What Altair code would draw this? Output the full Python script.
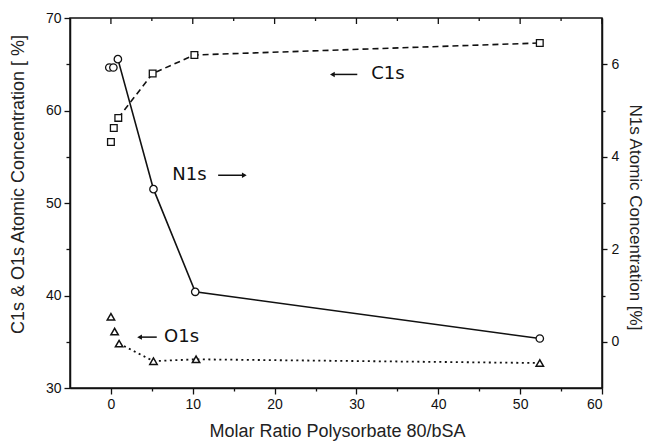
import altair as alt
import pandas as pd

# ---- data ----
c1s_x = [0.0, 0.35, 0.9, 5.1, 10.2, 52.4]
c1s_y = [56.6, 58.1, 59.2, 64.0, 66.0, 67.3]
o1s_x = [0.0, 0.45, 1.0, 5.2, 10.4, 52.4]
o1s_y = [37.7, 36.1, 34.8, 32.9, 33.1, 32.7]
n1s_x = [-0.2, 0.3, 0.85, 5.2, 10.3, 52.4]
n1s_y = [5.93, 5.93, 6.11, 3.30, 1.08, 0.07]
line_start = 2  # lines connect points from this index on

ann_labels = ["C1s", "N1s", "O1s"]
ann_text_x = [31.8, 7.5, 6.5]
ann_y = [63.9, 53.0, 35.5]
arrow_tail_x = [30.1, 13.1, 5.6]
arrow_head_x = [27.06, 16.3, 3.5]
arrow_shape = ["triangle-left", "triangle-right", "triangle-left"]

x_ticks = list(range(0, 61, 5))
left_ticks = list(range(30, 71, 5))
right_ticks = list(range(0, 7))

def frame(xs, ys):
    return pd.DataFrame({"x": xs, "y": ys, "i": list(range(len(xs)))})

df_c = frame(c1s_x, c1s_y)
df_o = frame(o1s_x, o1s_y)
df_n = frame(n1s_x, n1s_y)
df_ann = pd.DataFrame({"label": ann_labels, "x": ann_text_x, "y": ann_y,
                       "tail": arrow_tail_x, "head": arrow_head_x, "shape": arrow_shape})
df_top_major = pd.DataFrame({"x": [v for v in x_ticks if v % 10 == 0]})
df_top_minor = pd.DataFrame({"x": [v for v in x_ticks if v % 10 != 0]})

FONT = "Liberation Sans"

x_axis = alt.Axis(
    values=x_ticks, title="Molar Ratio Polysorbate 80/bSA",
    labelExpr="datum.value % 10 === 0 ? datum.label : ''",
    tickSize={"condition": {"test": "datum.value % 10 === 0", "value": 6}, "value": 3},
    grid=False, labelFontSize=14, labelPadding=3, titleFontSize=18,
    titleFontWeight="normal", titleX=267, titleY=43, titleBaseline="middle",
    titleAlign="center")

def xenc(field="x"):
    return alt.X(f"{field}:Q", scale=alt.Scale(domain=[-5, 60], nice=False, zero=False), axis=x_axis)

left_axis = alt.Axis(
    values=left_ticks, title="C1s & O1s Atomic Concentration [ %]",
    labelExpr="datum.value % 10 === 0 ? datum.label : ''",
    tickSize={"condition": {"test": "datum.value % 10 === 0", "value": 6}, "value": 4},
    grid=False, labelFontSize=14, labelPadding=3, titleFontSize=18,
    titleFontWeight="normal", titleX=-52, titleY=166, titleBaseline="middle",
    titleAlign="center", titleAngle=270)

def yleft():
    return alt.Y("y:Q", scale=alt.Scale(domain=[30, 70], nice=False, zero=False), axis=left_axis)

right_axis = alt.Axis(
    orient="right", values=right_ticks, title="N1s Atomic Concentration [%]",
    labelExpr="datum.value % 2 === 0 ? datum.label : ''",
    tickSize={"condition": {"test": "datum.value % 2 === 0", "value": 5}, "value": 3},
    grid=False, labelFontSize=14, labelPadding=4, titleFontSize=17,
    titleFontWeight="normal", titleX=32, titleY=199, titleBaseline="middle",
    titleAlign="center", titleAngle=90)

def yright():
    return alt.Y("y:Q", scale=alt.Scale(domain=[-1, 7], nice=False, zero=False), axis=right_axis)

BLACK = "#111111"

c_line = alt.Chart(df_c).transform_filter(f"datum.i >= {line_start}").mark_line(
    color=BLACK, strokeWidth=1.6, strokeDash=[6, 4]).encode(x=xenc(), y=yleft())
c_pts = alt.Chart(df_c).mark_point(shape="square", size=45, filled=True, fill="white",
    stroke=BLACK, strokeWidth=1.3, opacity=1).encode(x=xenc(), y=yleft())
o_line = alt.Chart(df_o).transform_filter(f"datum.i >= {line_start}").mark_line(
    color=BLACK, strokeWidth=1.8, strokeDash=[2, 3.5]).encode(x=xenc(), y=yleft())
o_pts = alt.Chart(df_o).mark_point(shape="triangle-up", size=55, filled=True, fill="white",
    stroke=BLACK, strokeWidth=1.5, opacity=1).encode(x=xenc(), y=yleft())

ann_text = alt.Chart(df_ann).mark_text(align="left", baseline="middle", font="DejaVu Sans",
    fontSize=18, color=BLACK).encode(x=xenc(), y=yleft(), text="label:N")
ann_rule = alt.Chart(df_ann).mark_rule(color=BLACK, strokeWidth=1.5).encode(
    x=xenc("tail"), x2=alt.X2("head:Q"), y=yleft())
ann_head = alt.Chart(df_ann).mark_point(filled=True, size=30, color=BLACK, opacity=1).encode(
    x=xenc("head"), y=yleft(), shape=alt.Shape("shape:N", scale=None, legend=None))

top_major = alt.Chart(df_top_major).mark_rule(color=BLACK, strokeWidth=1.3).encode(
    x=xenc(), y=alt.value(0), y2=alt.value(6))
top_minor = alt.Chart(df_top_minor).mark_rule(color=BLACK, strokeWidth=1.3).encode(
    x=xenc(), y=alt.value(0), y2=alt.value(3))

left_group = alt.layer(c_line, c_pts, o_line, o_pts, ann_text, ann_rule, ann_head,
                       top_major, top_minor)

n_line = alt.Chart(df_n).transform_filter(f"datum.i >= {line_start}").mark_line(
    color=BLACK, strokeWidth=1.6).encode(x=xenc(), y=yright())
n_pts = alt.Chart(df_n).mark_point(shape="circle", size=55, filled=True, fill="white",
    stroke=BLACK, strokeWidth=1.3, opacity=1).encode(x=xenc(), y=yright())

right_group = alt.layer(n_line, n_pts)

chart = alt.layer(left_group, right_group).resolve_scale(y="independent").properties(
    width=532, height=370, autosize="none",
    padding={"left": 70, "top": 18, "right": 44, "bottom": 57},
    background="white",
).configure_view(stroke=BLACK, strokeWidth=1.5).configure_axis(
    domainColor=BLACK, domainWidth=1.5, tickColor=BLACK, tickWidth=1.3,
    labelColor=BLACK, titleColor="#222222", labelFont=FONT, titleFont=FONT,
)

chart.save("out.html", embed_options={"renderer": "svg", "actions": False})
